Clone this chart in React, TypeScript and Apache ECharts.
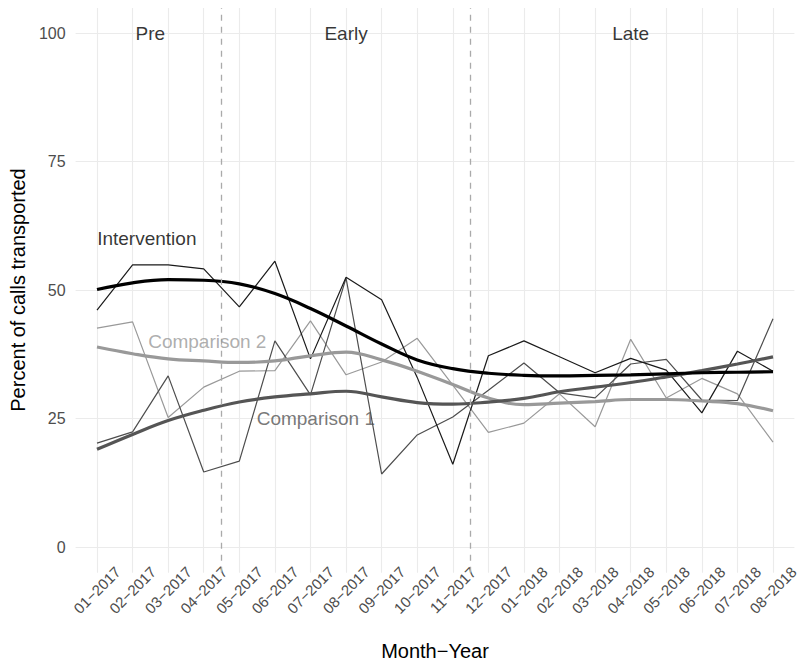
import React, { useEffect, useRef } from "react";
import * as echarts from "echarts";

// Month labels along the x axis
const months = [
  "01−2017", "02−2017", "03−2017", "04−2017", "05−2017", "06−2017", "07−2017",
  "08−2017", "09−2017", "10−2017", "11−2017", "12−2017", "01−2018", "02−2018",
  "03−2018", "04−2018", "05−2018", "06−2018", "07−2018", "08−2018",
];

// Monthly percent of calls transported
const interventionRaw = [46.1, 54.9, 54.9, 54.1, 46.7, 55.6, 36.6, 52.5, 48.1, 33.0, 16.1, 37.2, 40.1, 37.0, 33.9, 36.7, 34.4, 26.1, 38.1, 34.2];
const comparison1Raw = [20.2, 22.4, 33.3, 14.6, 16.7, 40.1, 29.6, 52.3, 14.2, 21.8, 25.3, 30.5, 35.8, 30.0, 29.0, 35.6, 36.5, 28.6, 28.5, 44.4];
const comparison2Raw = [42.6, 43.8, 25.2, 31.1, 34.2, 34.3, 44.0, 33.5, 36.0, 40.6, 31.5, 22.3, 24.1, 29.8, 23.4, 40.4, 29.0, 32.8, 29.8, 20.4];

// Smoothed trends
const interventionSmooth = [50.1, 51.4, 52.0, 51.9, 51.2, 49.3, 46.4, 43.0, 39.5, 36.4, 34.7, 33.8, 33.4, 33.3, 33.4, 33.5, 33.7, 33.9, 34.0, 34.1];
const comparison1Smooth = [19.0, 21.9, 24.6, 26.6, 28.2, 29.2, 29.8, 30.3, 29.2, 28.1, 27.8, 28.2, 28.9, 30.2, 31.1, 32.0, 33.1, 34.3, 35.6, 37.0];
const comparison2Smooth = [38.9, 37.6, 36.6, 36.2, 35.9, 36.2, 37.2, 37.9, 36.4, 34.2, 31.6, 29.0, 27.7, 28.0, 28.3, 28.7, 28.7, 28.4, 27.9, 26.5];

// Y axis ticks
const yTicks = [0, 25, 50, 75, 100];

// Phase boundaries (between months) and phase names
const phaseBreaks = [3.5, 10.5];
const phaseNames = ["Pre", "Early", "Late"];
const phaseX = [1.5, 7.0, 15.0];

// Group name labels
const groupNames = ["Intervention", "Comparison 2", "Comparison 1"];
const groupLabelX = [1.4, 3.1, 6.15];
const groupLabelY = [60, 40, 25];
const groupColors = ["#000000", "#999999", "#555555"];

const FONT = "Liberation Sans, Arial, Helvetica, sans-serif";
const GRID_COLOR = "#ebebeb";

const toPairs = (arr: number[]) => arr.map((v, i) => [i, v]);

export default function App() {
  const ref = useRef<HTMLDivElement>(null);

  useEffect(() => {
    if (!ref.current) return;
    const chart = echarts.init(ref.current, undefined, { renderer: "svg" });

    const rawLine = (name: string, data: number[], color: string) => ({
      name,
      type: "line",
      xAxisIndex: 2,
      yAxisIndex: 2,
      data: toPairs(data),
      showSymbol: false,
      symbol: "none",
      lineStyle: { color, width: 1.2 },
      z: 3,
    });
    const smoothLine = (name: string, data: number[], color: string) => ({
      name,
      type: "line",
      xAxisIndex: 2,
      yAxisIndex: 2,
      data: toPairs(data),
      smooth: 0.4,
      showSymbol: false,
      symbol: "none",
      lineStyle: { color, width: 3.2 },
      z: 4,
    });
    const textMark = (text: string, x: number, y: number, color: string) => ({
      type: "scatter",
      xAxisIndex: 2,
      yAxisIndex: 2,
      data: [[x, y]],
      symbolSize: 1,
      itemStyle: { color: "rgba(0,0,0,0)" },
      silent: true,
      z: 6,
      label: {
        show: true,
        position: "inside",
        formatter: text,
        color,
        fontFamily: FONT,
        fontSize: 19,
        align: "center",
        verticalAlign: "middle",
      },
    });

    const gridBase = { containLabel: false, outerBoundsMode: "none" };

    chart.setOption({
      animation: false,
      backgroundColor: "#ffffff",
      textStyle: { fontFamily: FONT },
      grid: [
        // horizontal grid lines across the full panel width
        { ...gridBase, left: 75.6, right: 10.6, top: 33, bottom: 119 },
        // vertical grid lines across the full panel height
        { ...gridBase, left: 97, right: 32, top: 7.3, bottom: 93.3 },
        // data area: first to last month, 0 to 100 percent
        { ...gridBase, left: 97, right: 32, top: 33, bottom: 119 },
      ],
      xAxis: [
        { gridIndex: 0, type: "value", min: 0, max: 1, show: false },
        {
          gridIndex: 1,
          type: "value",
          min: 0,
          max: months.length - 1,
          interval: 1,
          axisLine: { show: false },
          axisTick: { show: false },
          axisLabel: { show: false },
          splitLine: { show: true, lineStyle: { color: GRID_COLOR, width: 1.1 } },
        },
        {
          gridIndex: 2,
          type: "value",
          min: 0,
          max: months.length - 1,
          interval: 1,
          axisLine: { show: false, onZero: false },
          axisTick: { show: false },
          splitLine: { show: false },
          axisLabel: {
            formatter: (v: number) => months[Math.round(v)] ?? "",
            rotate: 45,
            align: "center",
            verticalAlign: "middle",
            margin: 43,
            color: "#4d4d4d",
            fontSize: 15,
            fontFamily: FONT,
          },
          name: "Month−Year",
          nameLocation: "middle",
          nameGap: 94,
          nameTextStyle: { color: "#000000", fontSize: 20, fontFamily: FONT },
        },
      ],
      yAxis: [
        {
          gridIndex: 0,
          type: "value",
          min: yTicks[0],
          max: yTicks[yTicks.length - 1],
          interval: 25,
          axisLine: { show: false },
          axisTick: { show: false },
          splitLine: { show: true, lineStyle: { color: GRID_COLOR, width: 1.1 } },
          axisLabel: {
            color: "#4d4d4d",
            fontSize: 16,
            fontFamily: FONT,
            margin: 10,
          },
          name: "Percent of calls transported",
          nameLocation: "middle",
          nameGap: 42,
          nameTextStyle: { color: "#000000", fontSize: 20, fontFamily: FONT },
        },
        { gridIndex: 1, type: "value", min: 0, max: 1, show: false },
        {
          gridIndex: 2,
          type: "value",
          min: yTicks[0],
          max: yTicks[yTicks.length - 1],
          interval: 25,
          show: false,
          splitLine: { show: false },
        },
      ],
      series: [
        {
          type: "line",
          xAxisIndex: 1,
          yAxisIndex: 1,
          data: [],
          silent: true,
          markLine: {
            symbol: "none",
            silent: true,
            label: { show: false },
            lineStyle: { color: "#aaaaaa", type: [6, 6], width: 1.3 },
            data: phaseBreaks.map((x) => ({ xAxis: x })),
          },
          z: 2,
        },
        rawLine("Comparison 2", comparison2Raw, "#999999"),
        rawLine("Comparison 1", comparison1Raw, "#4d4d4d"),
        rawLine("Intervention", interventionRaw, "#1a1a1a"),
        smoothLine("Comparison 2 trend", comparison2Smooth, "#999999"),
        smoothLine("Comparison 1 trend", comparison1Smooth, "#555555"),
        smoothLine("Intervention trend", interventionSmooth, "#000000"),
        ...phaseNames.map((t, i) => textMark(t, phaseX[i], 100, "#000000")),
        ...groupNames.map((t, i) => textMark(t, groupLabelX[i], groupLabelY[i], groupColors[i])),
      ],
    });

    return () => chart.dispose();
  }, []);

  return <div ref={ref} style={{ width: 805, height: 666, margin: -8 }} />;
}
